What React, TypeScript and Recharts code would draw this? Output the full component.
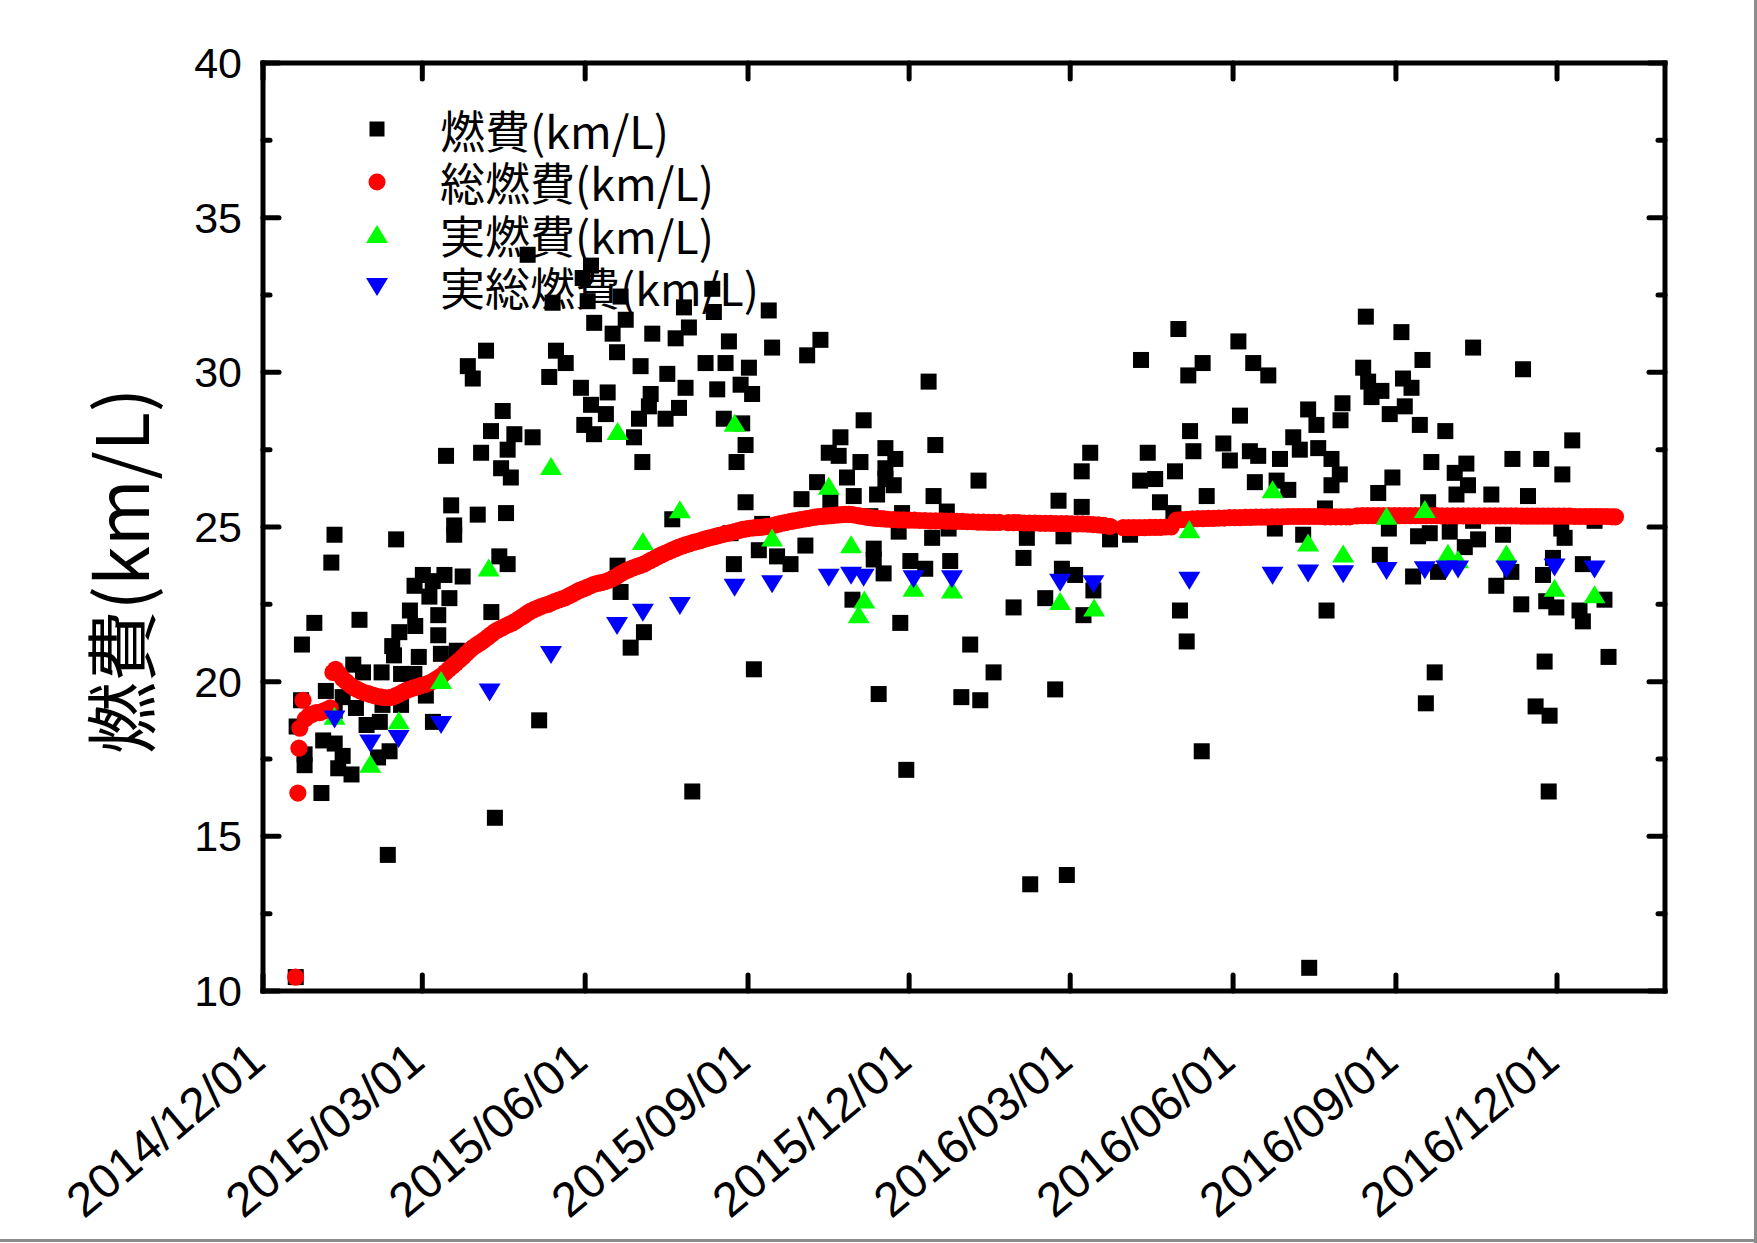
import React from "react";
import { ScatterChart, Scatter, XAxis, YAxis, Legend } from "recharts";

// ---------------- data (x = days since BASE_DATE, y = km/L) ----------------
const BASE_DATE = "2014/12/01";
const END_DATE = "2017/01/31";
const X_TICK_LABELS = [
  "2014/12/01", "2015/03/01", "2015/06/01", "2015/09/01", "2015/12/01",
  "2016/03/01", "2016/06/01", "2016/09/01", "2016/12/01",
];
const Y_MAJOR_TICKS = [10, 15, 20, 25, 30, 35, 40];
const Y_MINOR_TICKS = [12.5, 17.5, 22.5, 27.5, 32.5, 37.5];
const SERIES_NAMES = ["燃費(km/L)", "総燃費(km/L)", "実燃費(km/L)", "実総燃費(km/L)"];
const Y_TITLE = "燃費(km/L)";

// 燃費 (black squares)
const FUEL: [number, number][] = [
  [18.5,10.45],[33,16.4],[131,15.6],[70.5,14.4],[156,18.75],[29,21.9],[54.5,22.0],[22,21.2],[83,22.3],[99,22.15],
  [99,21.5],[77,21.6],[86,21.8],[73,21.15],[74,20.85],[88,20.8],[100.5,20.9],[129,22.25],[109.5,21.0],[51,20.55],
  [56.5,20.3],[67,20.3],[78,20.25],[85.5,20.25],[35.5,19.7],[45,19.5],[92,19.55],[21.5,19.4],[52.5,19.15],[67.5,19.25],
  [78,19.25],[58.5,18.6],[66,18.7],[96,18.7],[19,18.55],[34,18.1],[40.5,18.0],[23.5,17.65],[45,17.6],[71.5,17.75],
  [65,17.55],[23.5,17.3],[42.5,17.2],[50,17.0],[40.5,19.05],
  [149.5,33.8],[185.3,33.45],[180.6,33.05],[163.6,32.25],[183.4,32.3],[187.1,31.6],[197.5,31.25],[200,30.65],[126,30.7],[115.7,30.2],
  [118.5,29.8],[165.5,30.7],[171,30.3],[161.7,29.85],[179.6,29.5],[194.7,29.35],[185.3,28.95],[193.7,28.65],[181.5,28.3],[187,28.0],
  [135.4,28.75],[128.8,28.1],[142,28.0],[152.3,27.9],[103.4,27.3],[123.2,27.4],[138.2,27.5],[134.5,26.9],[140,26.6],[106.3,25.7],
  [121.3,25.4],[137.3,25.45],[108,25.05],[108,24.75],[40.4,24.75],[75.2,24.6],[38.6,23.85],[138.2,23.8],[133.5,24.05],[90.3,23.45],
  [102.5,23.45],[112.8,23.4],[85.6,23.1],[95.9,23.25],[94,22.75],[105.3,22.7],[200.3,23.75],[202,22.9],
  [202,32.45],[237.8,32.1],[253.8,32.7],[254.7,31.95],[285.7,32.0],[204.9,31.7],[219.9,31.25],[233.1,31.1],[240.6,31.45],[263.2,31.0],
  [287.6,30.8],[314.9,31.05],[307.4,30.55],[213.3,30.2],[228.4,29.95],[250,30.3],[261.3,30.3],[274.5,30.15],[219,29.3],[238.7,29.5],
  [256.6,29.45],[269.8,29.6],[276.3,29.3],[376,29.7],[218,28.9],[235,28.85],[212.4,28.5],[227.4,28.5],[260.3,28.5],[270.7,28.35],
  [209.6,27.9],[272.6,27.65],[214.3,27.1],[267.5,27.1],[339.3,28.45],[326.2,27.9],[319.6,27.4],[325.2,27.3],[337.5,27.1],[351.6,27.55],
  [357.2,27.2],[379.8,27.65],[351.6,26.9],[313,26.45],[329.9,26.6],[351.6,26.55],[356.3,26.35],[304.2,25.9],[320.5,25.8],[333.7,26.0],
  [346.9,26.05],[378.8,26.0],[272.6,25.8],[231.2,25.25],[343.1,25.35],[361,25.45],[386.3,25.5],[264.1,24.8],[282,25.1],[359.1,24.85],
  [378,24.65],[387.3,24.95],[306.4,24.4],[280.1,24.25],[290.4,24.05],[298,23.8],[266,23.8],[345,24.3],[345,23.95],[365.7,23.9],
  [374.1,23.65],[388.2,23.9],[350.6,23.5],[333,22.65],[360,21.9],
  [215.2,21.6],[207.7,21.1],[277.3,20.4],[242.5,16.45],[347.8,19.6],[363.4,17.15],[399.5,21.2],[394.5,19.5],[405.2,19.4],
  [517.1,31.4],[551,31.0],[496,30.4],[530.8,30.3],[522.7,29.9],[559.4,30.3],[567.9,29.9],[551.9,28.6],[590.4,28.8],[595.1,28.3],
  [523.7,28.1],[525.6,27.45],[542.5,27.7],[546.2,27.15],[557.5,27.45],[562.2,27.3],[582,27.9],[585.7,27.5],[596.1,27.55],[574.5,27.2],
  [467.3,27.4],[499.8,27.4],[462.5,26.8],[495.5,26.5],[504,26.55],[515.2,26.8],[560.3,26.45],[572.6,26.5],[579.2,26.2],[404.2,26.5],
  [449.4,25.85],[462.5,25.65],[506.7,25.8],[514.3,25.45],[533.1,26.0],[452.2,24.7],[431.5,24.65],[478.5,24.6],[489.8,24.75],[571.6,24.95],
  [587.6,24.75],[429.6,24.0],[451.3,23.65],[458.8,23.45],[441.9,22.7],[463.5,22.15],[469.1,22.95],[424,22.4],[518,22.3],[521.8,21.3],
  [412.7,20.3],[447.5,19.75],[530.3,17.75],[433.4,13.45],[454.1,13.75],[591,10.75],
  [623,31.8],[643.1,31.3],[683.6,30.8],[711.8,30.1],[655,30.4],[621.5,30.15],[624.3,29.7],[644,29.8],[648.8,29.5],[631.8,29.4],
  [626.2,29.2],[609.8,29.0],[645,28.9],[636.5,28.65],[608.7,28.45],[653.5,28.3],[667.9,28.1],[739.6,27.8],[603.6,27.2],[608.3,26.7],
  [603.6,26.35],[660,27.1],[679.8,27.05],[673.2,26.75],[705.8,27.2],[722.1,27.2],[734,26.7],[638,26.6],[630,26.1],[680.7,26.35],
  [693.9,26.05],[714.6,26.0],[674.2,26.05],[658.2,25.8],[599.9,25.6],[636,24.95],[652.5,24.7],[659.1,24.8],[670.4,24.85],[683.6,25.2],
  [686.4,24.6],[678.9,24.35],[700.5,24.75],[733.4,24.95],[735.3,24.65],[752.2,25.2],[630.9,24.1],[728.7,24.0],[649.7,23.4],[663.8,23.55],
  [705.2,23.55],[696.7,23.1],[723.1,23.45],[745.6,23.8],[710.8,22.5],[724.9,22.6],[730.6,22.4],[743.7,22.3],[745.6,21.95],[757.8,22.65],
  [600.8,22.3],[724,20.65],[760.1,20.8],[661.9,20.3],[656.9,19.3],[718.9,19.2],[726.8,18.9],[726.3,16.45],
];

// 総燃費 (red circles)
const TOTAL_FUEL: [number, number][] = [
  [18.4,10.45],[19.7,16.4],[20.3,17.85],[20.8,18.5],[22.6,19.4],[24,18.8],[26,18.9],[28,18.95],[30,19.0],[32,19.0],
  [34,19.05],[36,19.1],[38,19.15],[39.5,20.3],[41,20.4],[43,20.25],[45,20.1],[47,20.0],[49,19.9],[51,19.82],
  [53,19.76],[55,19.7],[57,19.65],[59,19.62],[61,19.58],[63,19.55],[65,19.52],[67,19.5],[69,19.48],[71,19.48],
  [73,19.5],[75,19.55],[77,19.6],[79,19.66],[81,19.72],[83,19.76],[85,19.8],[87,19.83],[89,19.87],[91,19.9],
  [93,19.94],[95,19.99],[97,20.05],[99,20.12],[101,20.2],[103,20.3],[105,20.4],[107,20.5],[109,20.6],[111,20.7],
  [113,20.8],[115,20.92],[117,21.03],[119,21.12],[121,21.2],[123,21.27],[125,21.35],[127,21.44],[129,21.53],[131,21.62],
  [133,21.68],[135,21.74],[137,21.8],[139,21.85],[141,21.9],[143,21.97],[145,22.05],[147,22.12],[149,22.2],[151,22.27],
  [153,22.33],[155,22.38],[157,22.43],[159,22.47],[161,22.5],[163,22.55],[165,22.6],[167,22.64],[169,22.68],[171,22.72],
  [173,22.78],[175,22.84],[177,22.9],[179,22.96],[181,23.0],[183,23.05],[185,23.1],[187,23.15],[189,23.18],[191,23.2],
  [193,23.23],[195,23.27],[197,23.32],[199,23.38],[201,23.45],[203,23.52],[205,23.58],[207,23.63],[209,23.68],[211,23.72],
  [213,23.76],[215,23.8],[217,23.86],[219,23.92],[221,23.98],[223,24.04],[225,24.1],[227,24.15],[229,24.2],[231,24.25],
  [233,24.3],[235,24.35],[237,24.39],[239,24.43],[241,24.46],[243,24.5],[245,24.53],[247,24.56],[249,24.6],[251,24.63],
  [253,24.66],[255,24.69],[257,24.72],[259,24.75],[261,24.78],[263,24.8],[265,24.83],[267,24.86],[269,24.89],[271,24.92],
  [273,24.94],[275,24.96],[277,24.97],[279,24.98],[281,24.99],[283,25.0],[285,25.02],[287,25.03],[289,25.06],[291,25.09],
  [293,25.12],[295,25.14],[297,25.17],[299,25.19],[301,25.21],[303,25.23],[305,25.25],[307,25.27],[309,25.29],[311,25.31],
  [313,25.33],[315,25.34],[317,25.35],[319,25.36],[321,25.37],[323,25.38],[325,25.39],[327,25.4],[329,25.41],[331,25.41],
  [333,25.4],[335,25.38],[337,25.36],[339,25.34],[341,25.32],[343,25.3],[345,25.29],[347,25.28],[349,25.27],[351,25.26],
  [353,25.25],[356,25.24],[359,25.23],[362,25.23],[365,25.22],[368,25.22],[371,25.21],[374,25.21],[377,25.2],[380,25.2],
  [383,25.2],[386,25.19],[389,25.19],[392,25.18],[395,25.18],[398,25.17],[401,25.17],[404,25.16],[407,25.16],[410,25.15],
  [413,25.15],[416,25.15],[421,25.14],[424,25.14],[427,25.14],[430,25.13],[433,25.13],[436,25.13],[439,25.12],[442,25.12],
  [445,25.12],[448,25.11],[451,25.11],[454,25.11],[457,25.1],[460,25.1],[463,25.1],[466,25.09],[469,25.08],[472,25.07],
  [475,25.05],[478.5,25.02],[486,24.98],[489,24.98],[492,24.98],[495,24.98],[498,24.98],[501,24.99],[504,24.99],[507,24.99],
  [510,25.0],[513,25.0],[516,25.22],[519,25.24],[522,25.25],[525,25.26],[528,25.27],[531,25.27],[534,25.28],[537,25.28],
  [540,25.29],[543,25.29],[546,25.3],[549,25.3],[552,25.3],[555,25.31],[558,25.31],[561,25.32],[564,25.32],[567,25.32],
  [570,25.33],[573,25.33],[576,25.33],[579,25.34],[582,25.34],[585,25.34],[588,25.34],[591,25.34],[594,25.34],[597,25.34],
  [600,25.33],[603,25.33],[606,25.33],[609,25.33],[612,25.33],[614,25.33],[618,25.36],[621,25.37],[624,25.37],[627,25.37],
  [630,25.37],[633,25.37],[636,25.37],[639,25.37],[642,25.37],[645,25.37],[648,25.37],[651,25.37],[654,25.37],[657,25.37],
  [660,25.37],[663,25.37],[666,25.36],[669,25.36],[672,25.36],[675,25.36],[678,25.36],[681,25.36],[684,25.36],[687,25.36],
  [690,25.36],[693,25.36],[696,25.36],[699,25.36],[702,25.36],[705,25.36],[708,25.36],[711,25.35],[714,25.35],[717,25.35],
  [720,25.35],[723,25.35],[726,25.35],[729,25.35],[732,25.35],[735,25.35],[738,25.35],[741,25.34],[744,25.34],[747,25.34],
  [750,25.34],[753,25.34],[756,25.34],[759,25.34],[762,25.33],[764,25.33],
];

// 実燃費 (green triangles)
const REAL_FUEL: [number, number][] = [
  [40.4,18.9],[60.6,17.35],[76.7,18.75],[100.6,20.05],[127.5,23.69],[162.7,26.97],[200.3,28.1],[214.6,24.55],[235.5,25.57],[266.4,28.37],
  [287.6,24.66],[319.6,26.33],[332.2,24.44],[336.5,22.18],[339.7,22.66],[367.5,23.04],[389.2,22.98],[450.3,22.61],[469.5,22.4],[523.3,24.93],
  [570.3,26.22],[590.4,24.5],[610.2,24.14],[634.7,25.36],[656.3,25.58],[669.4,24.17],[675.1,23.96],[702.4,24.14],[729.6,23.04],[752.2,22.83],
];

// 実総燃費 (blue inverted triangles)
const REAL_TOTAL_FUEL: [number, number][] = [
  [40.4,18.78],[60.6,18.0],[76.6,18.15],[100.6,18.6],[128,19.65],[162.7,20.86],[200,21.8],[214.6,22.23],[235.5,22.45],[266.4,23.04],
  [287.6,23.15],[319.6,23.36],[332.2,23.42],[339.3,23.36],[367.5,23.31],[389.2,23.31],[450.3,23.2],[469.1,23.15],[523.3,23.26],[570.3,23.42],
  [590.4,23.5],[610.2,23.47],[634.7,23.58],[656.3,23.6],[668.5,23.63],[675.1,23.63],[702.4,23.63],[729.6,23.69],[752.2,23.63],
];

// ---------------- helpers ----------------
const parseDay = (s: string) => {
  const [y, m, d] = s.split("/").map(Number);
  return Date.UTC(y, m - 1, d) / 86400000;
};
const dayOffset = (s: string) => parseDay(s) - parseDay(BASE_DATE);
const X_TICKS = X_TICK_LABELS.map(dayOffset);
const X_MAX = dayOffset(END_DATE);
const Y_ALL_TICKS = [...Y_MAJOR_TICKS, ...Y_MINOR_TICKS].sort((a, b) => a - b);
const toPoints = (arr: [number, number][]) => arr.map(([x, y]) => ({ x, y }));

// ---------------- layout / style ----------------
const W = 1757;
const H = 1243;
const MARGIN = { top: 53, right: 82, bottom: 12, left: 0 };
const LEFT_W = 263;
const RIGHT_W = 10;
const TOP_H = 10;
const BOTTOM_H = 240;
const MAJ = 16;
const MIN = 7;
const TICK_W = 5;
const FRAME: any = { stroke: "#000", strokeWidth: 5, strokeLinecap: "square" };
const NUM_FONT = '"Liberation Sans", Arial, sans-serif';
const CJK_FONT = '"Noto Sans CJK JP", "Noto Sans CJK SC", sans-serif';
const COLORS = ["#000000", "#ff0000", "#00ff00", "#0000ff"];

function LeftTick(p: any) {
  const v = p.payload.value;
  const major = Y_MAJOR_TICKS.includes(v);
  return (
    <g>
      <line x1={p.x} y1={p.y} x2={p.x + (major ? MAJ : MIN)} y2={p.y} stroke="#000" strokeWidth={TICK_W} strokeLinecap="round" />
      {major && (
        <text x={p.x - 21} y={p.y} textAnchor="end" dominantBaseline="central" fontSize={43} fontFamily={NUM_FONT} fill="#000">
          {v}
        </text>
      )}
    </g>
  );
}

function RightTick(p: any) {
  const v = p.payload.value;
  const major = Y_MAJOR_TICKS.includes(v);
  return <line x1={p.x} y1={p.y} x2={p.x - (major ? MAJ : MIN)} y2={p.y} stroke="#000" strokeWidth={TICK_W} strokeLinecap="round" />;
}

function BottomTick(p: any) {
  const i = X_TICKS.indexOf(p.payload.value);
  const tx = p.x + 5;
  const ty = p.y + 74;
  return (
    <g>
      <line x1={p.x} y1={p.y} x2={p.x} y2={p.y - MAJ} stroke="#000" strokeWidth={TICK_W} strokeLinecap="round" />
      <text x={tx} y={ty} transform={`rotate(-40 ${tx} ${ty})`} textAnchor="end" fontSize={48} fontFamily={NUM_FONT} fill="#000">
        {X_TICK_LABELS[i]}
      </text>
    </g>
  );
}

function TopTick(p: any) {
  return <line x1={p.x} y1={p.y} x2={p.x} y2={p.y + MAJ} stroke="#000" strokeWidth={TICK_W} strokeLinecap="round" />;
}

function YTitle(p: any) {
  const vb = p.viewBox || { x: 0, y: 63, width: 263, height: 928 };
  const cx = vb.x + 117;
  const cy = vb.y + vb.height / 2 + 44;
  return (
    <text transform={`translate(${cx} ${cy}) rotate(-90)`} textAnchor="middle" dominantBaseline="central" fontSize={72} fontFamily={CJK_FONT} fill="#000">
      {Y_TITLE}
    </text>
  );
}

const SquareShape = (p: any) => <rect x={p.cx - 8} y={p.cy - 8} width={16} height={16} fill={COLORS[0]} />;
const DotShape = (p: any) => <circle cx={p.cx} cy={p.cy} r={8.6} fill={COLORS[1]} />;
const UpShape = (p: any) => (
  <polygon points={`${p.cx},${p.cy - 9} ${p.cx + 11},${p.cy + 9} ${p.cx - 11},${p.cy + 9}`} fill={COLORS[2]} />
);
const DownShape = (p: any) => (
  <polygon points={`${p.cx - 11},${p.cy - 9} ${p.cx + 11},${p.cy - 9} ${p.cx},${p.cy + 9}`} fill={COLORS[3]} />
);

function legendIcon(i: number) {
  if (i === 0) return <rect x={7.5} y={7.5} width={15} height={15} fill={COLORS[0]} />;
  if (i === 1) return <circle cx={15} cy={15} r={8.5} fill={COLORS[1]} />;
  if (i === 2) return <polygon points="15,6 26,24 4,24" fill={COLORS[2]} />;
  return <polygon points="4,6 26,6 15,24" fill={COLORS[3]} />;
}

function LegendContent(p: any) {
  const payload: any[] = p.payload || [];
  // keep the series order (not the alphabetical order Recharts may apply)
  const items = SERIES_NAMES.map((name) => payload.find((it: any) => it.value === name) || { value: name });
  return (
    <div style={{ fontFamily: CJK_FONT, fontSize: 45, color: "#000", lineHeight: 1 }}>
      {items.map((it: any, i: number) => (
        <div key={i} style={{ display: "flex", alignItems: "center", height: 52.5, whiteSpace: "nowrap" }}>
          <svg width={30} height={30} style={{ display: "block", flex: "none" }}>
            {legendIcon(i)}
          </svg>
          <span style={{ marginLeft: 48.5 }}>{it.value}</span>
        </div>
      ))}
    </div>
  );
}

export default function App() {
  return (
    <div style={{ position: "fixed", left: 0, top: 0, width: W, height: H, background: "#fff" }}>
      <ScatterChart width={W} height={H} margin={MARGIN}>
        <XAxis
          xAxisId="b"
          type="number"
          dataKey="x"
          orientation="bottom"
          domain={[0, X_MAX]}
          allowDataOverflow
          ticks={X_TICKS}
          interval={0}
          height={BOTTOM_H}
          axisLine={FRAME}
          tickLine={false}
          tickSize={0}
          tickMargin={0}
          tick={<BottomTick />}
        />
        <XAxis
          xAxisId="t"
          type="number"
          dataKey="x"
          orientation="top"
          domain={[0, X_MAX]}
          allowDataOverflow
          ticks={X_TICKS}
          interval={0}
          height={TOP_H}
          axisLine={FRAME}
          tickLine={false}
          tickSize={0}
          tickMargin={0}
          tick={<TopTick />}
        />
        <YAxis
          yAxisId="l"
          type="number"
          dataKey="y"
          orientation="left"
          domain={[10, 40]}
          allowDataOverflow
          ticks={Y_ALL_TICKS}
          interval={0}
          width={LEFT_W}
          axisLine={FRAME}
          tickLine={false}
          tickSize={0}
          tickMargin={0}
          tick={<LeftTick />}
          label={<YTitle />}
        />
        <YAxis
          yAxisId="r"
          type="number"
          dataKey="y"
          orientation="right"
          domain={[10, 40]}
          allowDataOverflow
          ticks={Y_ALL_TICKS}
          interval={0}
          width={RIGHT_W}
          axisLine={FRAME}
          tickLine={false}
          tickSize={0}
          tickMargin={0}
          tick={<RightTick />}
        />
        <Legend
          layout="vertical"
          align="center"
          verticalAlign="middle"
          itemSorter={null as any}
          wrapperStyle={{ left: 361.5, top: 103, width: 420, height: 220, right: "auto", bottom: "auto" }}
          content={<LegendContent />}
        />
        <Scatter name={SERIES_NAMES[0]} xAxisId="b" yAxisId="l" data={toPoints(FUEL)} fill={COLORS[0]} shape={SquareShape} isAnimationActive={false} />
        <Scatter name={SERIES_NAMES[1]} xAxisId="b" yAxisId="l" data={toPoints(TOTAL_FUEL)} fill={COLORS[1]} shape={DotShape} isAnimationActive={false} />
        <Scatter name={SERIES_NAMES[2]} xAxisId="b" yAxisId="l" data={toPoints(REAL_FUEL)} fill={COLORS[2]} shape={UpShape} isAnimationActive={false} />
        <Scatter name={SERIES_NAMES[3]} xAxisId="b" yAxisId="l" data={toPoints(REAL_TOTAL_FUEL)} fill={COLORS[3]} shape={DownShape} isAnimationActive={false} />
      </ScatterChart>
      <div style={{ position: "absolute", left: 1754, top: 0, width: 3, height: H, background: "#8c8c8c" }} />
      <div style={{ position: "absolute", left: 0, top: 1239, width: W, height: 3, background: "#8c8c8c" }} />
    </div>
  );
}
